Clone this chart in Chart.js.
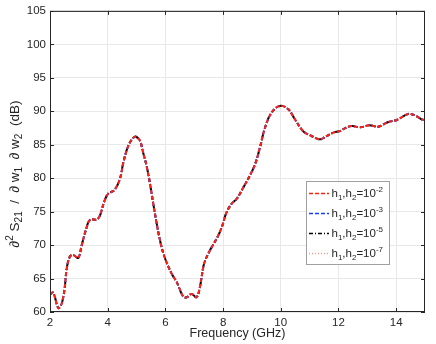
<!DOCTYPE html>
<html>
<head>
<meta charset="utf-8">
<script src="https://cdn.jsdelivr.net/npm/chart.js@4/dist/chart.umd.min.js"></script>
<style>
  html, body { margin: 0; padding: 0; background: #fff; }
  #wrap { width: 436px; height: 344px; }
</style>
</head>
<body>
<div id="wrap"><canvas id="myChart" width="436" height="344"></canvas></div>
<script>
// data
var freq = [2.0, 2.11, 2.29, 2.4, 2.5, 2.58, 2.69, 2.81, 2.98, 3.1, 3.24, 3.39, 3.62, 3.73, 3.88,
  4.02, 4.23, 4.43, 4.54, 4.71, 4.88, 4.98, 5.12, 5.23, 5.35, 5.47, 5.58, 5.7, 5.84, 5.99,
  6.22, 6.39, 6.62, 6.74, 6.91, 7.08, 7.2, 7.34, 7.52, 7.78, 7.95, 8.12, 8.3, 8.47, 8.7,
  8.93, 9.11, 9.28, 9.45, 9.68, 9.97, 10.26, 10.49, 10.78, 11.07, 11.36, 11.59, 11.82, 12.05,
  12.22, 12.46, 12.75, 13.07, 13.38, 13.73, 14.02, 14.42, 14.65, 14.88, 15.0];
var s21 = [62.6, 62.9, 60.6, 61.2, 63.3, 66.5, 68.3, 68.5, 68.1, 70.0, 72.2, 73.8, 73.8, 74.4, 76.5,
  77.7, 78.2, 80.0, 82.3, 84.8, 86.0, 86.2, 85.6, 83.8, 81.8, 79.1, 76.2, 73.2, 70.2, 68.0,
  65.7, 64.5, 62.3, 62.2, 62.7, 62.2, 63.8, 67.2, 69.0, 71.0, 72.6, 74.9, 76.2, 76.9, 78.6,
  80.4, 82.1, 84.6, 87.5, 89.8, 90.8, 90.3, 88.8, 87.0, 86.3, 85.8, 86.3, 86.8, 87.05,
  87.45, 87.8, 87.6, 87.9, 87.7, 88.4, 88.7, 89.6, 89.4, 88.8, 88.7];
// the four step sizes give curves that lie on top of each other
var series1 = s21, series2 = s21, series3 = s21, series4 = s21;
var expo = ['-2', '-3', '-5', '-7'];
var xTicks = [2, 4, 6, 8, 10, 12, 14];
var yTicks = [60, 65, 70, 75, 80, 85, 90, 95, 100, 105];

var FONT = '"Liberation Sans", Arial, Helvetica, sans-serif';
var INK = '#262626';
var colors = ['rgb(255,35,10)', 'rgb(20,60,255)', '#000000', 'rgb(255,150,135)'];
var dashes = [[4, 2], [4, 2], [4, 2, 1, 2], [1, 2]];
var widths = [2, 2, 2, 1];

function pts(ys) {
  return freq.map(function (f, i) { return { x: f, y: ys[i] }; });
}

// draw text with sub/superscripts
function drawRich(ctx, parts, x, y, size, small) {
  var cx = x;
  parts.forEach(function (p) {
    var fs = p.k ? small : size;
    ctx.font = fs + 'px ' + FONT;
    var dy = p.k == 'sub' ? size * 0.28 : (p.k == 'sup' ? -size * 0.42 : 0);
    ctx.fillText(p.t, cx, y + dy);
    cx += ctx.measureText(p.t).width;
  });
  return cx - x;
}
function richWidth(ctx, parts, size, small) {
  var w = 0;
  parts.forEach(function (p) {
    ctx.font = (p.k ? small : size) + 'px ' + FONT;
    w += ctx.measureText(p.t).width;
  });
  return w;
}

var boxPlugin = {
  id: 'box',
  afterDraw: function (chart) {
    var ctx = chart.ctx, a = chart.chartArea;
    var xs = chart.scales.x, ys = chart.scales.y;
    ctx.save();
    ctx.strokeStyle = INK;
    ctx.lineWidth = 1;
    ctx.strokeRect(a.left + 0.5, a.top + 0.5, a.right - a.left - 1, a.bottom - a.top - 1);
    // inward ticks
    ctx.beginPath();
    xTicks.forEach(function (v) {
      var px = Math.round(xs.getPixelForValue(v)) + 0.5;
      ctx.moveTo(px, a.bottom); ctx.lineTo(px, a.bottom - 4);
      ctx.moveTo(px, a.top); ctx.lineTo(px, a.top + 4);
    });
    yTicks.forEach(function (v) {
      var py = Math.round(ys.getPixelForValue(v)) + 0.5;
      ctx.moveTo(a.left, py); ctx.lineTo(a.left + 4, py);
      ctx.moveTo(a.right, py); ctx.lineTo(a.right - 4, py);
    });
    ctx.stroke();

    // y axis label
    ctx.fillStyle = INK;
    ctx.textBaseline = 'alphabetic';
    var lab = [{ t: '\u2202' }, { t: '2', k: 'sup' }, { t: ' S' }, { t: '21', k: 'sub' },
      { t: '  /  \u2202 w' }, { t: '1', k: 'sub' }, { t: '  \u2202 w' }, { t: '2', k: 'sub' }, { t: '  (dB)' }];
    var w = richWidth(ctx, lab, 13.5, 10);
    ctx.save();
    ctx.translate(14, 174);
    ctx.rotate(-Math.PI / 2);
    drawRich(ctx, lab, -w / 2, 4.5, 13.5, 10);
    ctx.restore();

    // legend
    var lx = 306.5, ly = 181.5, lw = 83, lh = 83;
    ctx.fillStyle = '#fff';
    ctx.fillRect(lx, ly, lw, lh);
    ctx.strokeStyle = '#a0a0a0';
    ctx.lineWidth = 1;
    ctx.strokeRect(lx, ly, lw, lh);
    for (var i = 0; i < 4; i++) {
      var cy = 193 + i * 20;
      ctx.strokeStyle = colors[i];
      ctx.lineWidth = 1.3;
      ctx.setLineDash(dashes[i]);
      ctx.beginPath();
      ctx.moveTo(309, cy + 0.5); ctx.lineTo(329, cy + 0.5);
      ctx.stroke();
      ctx.setLineDash([]);
      ctx.fillStyle = INK;
      drawRich(ctx, [{ t: 'h' }, { t: '1', k: 'sub' }, { t: ',h' }, { t: '2', k: 'sub' },
        { t: '=10' }, { t: expo[i], k: 'sup' }], 331.5, cy + 4, 11.5, 8);
    }
    ctx.restore();
  }
};

var ctx = document.getElementById('myChart').getContext('2d');
var myChart = new Chart(ctx, {
  type: 'line',
  data: {
    datasets: [
      { label: 'h1,h2=10^-2', data: pts(series1), borderColor: colors[0], borderDash: dashes[0], borderWidth: widths[0] },
      { label: 'h1,h2=10^-3', data: pts(series2), borderColor: colors[1], borderDash: dashes[1], borderWidth: widths[1] },
      { label: 'h1,h2=10^-5', data: pts(series3), borderColor: colors[2], borderDash: dashes[2], borderWidth: widths[2] },
      { label: 'h1,h2=10^-7', data: pts(series4), borderColor: colors[3], borderDash: dashes[3], borderWidth: widths[3] }
    ]
  },
  options: {
    responsive: false,
    animation: false,
    layout: { padding: { top: 9, right: 11, left: 0, bottom: 0 } },
    elements: {
      point: { radius: 0 },
      line: { tension: 0.35, fill: false }
    },
    plugins: {
      legend: { display: false },
      tooltip: { enabled: false }
    },
    scales: {
      x: {
        type: 'linear',
        min: 2, max: 15,
        afterFit: function (s) { s.height = 32; },
        afterBuildTicks: function (s) { s.ticks = xTicks.map(function (v) { return { value: v }; }); },
        grid: { color: '#e8e8e8', drawTicks: false },
        border: { display: false },
        ticks: { padding: 4, color: INK, maxRotation: 0, font: { family: FONT, size: 11.5 } },
        title: { display: true, text: 'Frequency (GHz)', color: INK, padding: { top: 0, bottom: 3 },
          font: { family: FONT, size: 12.5 } }
      },
      y: {
        min: 60, max: 105,
        afterFit: function (s) { s.width = 50; },
        afterBuildTicks: function (s) { s.ticks = yTicks.map(function (v) { return { value: v }; }); },
        grid: { color: '#e8e8e8', drawTicks: false },
        border: { display: false },
        ticks: { padding: 4, color: INK, font: { family: FONT, size: 11.5 } }
      }
    }
  },
  plugins: [boxPlugin]
});
</script>
</body>
</html>
